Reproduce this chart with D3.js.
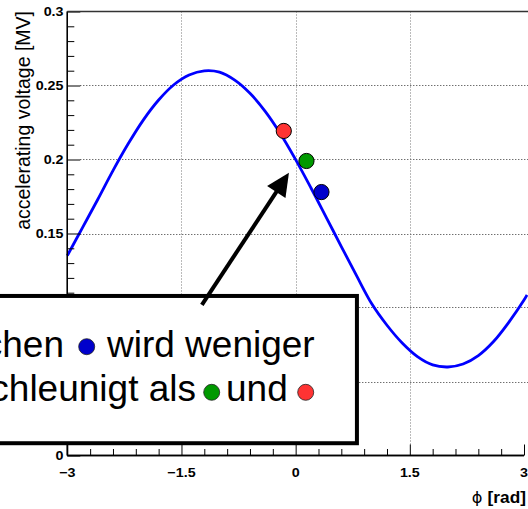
<!DOCTYPE html>
<html>
<head>
<meta charset="utf-8">
<script src="https://cdn.jsdelivr.net/npm/d3@7"></script>
<style>
html, body { margin: 0; padding: 0; background: #fff; overflow: hidden; }
svg { display: block; }
text { font-family: "Liberation Sans", Arial, Helvetica, sans-serif; }
</style>
</head>
<body>
<svg id="chart" width="528" height="509"></svg>
<script>
// ---- data ----
const phi = [-3.0,-2.8,-2.6,-2.4,-2.2,-2.0,-1.8,-1.6,-1.4,-1.2,-1.0,-0.8,-0.6,-0.4,-0.2,0.0,
             0.2,0.4,0.6,0.8,1.0,1.2,1.4,1.6,1.8,2.0,2.2,2.4,2.6,2.8,3.0,3.04];
const voltage = [0.135,0.154,0.173,0.1925,0.2106,0.2268,0.2402,0.2505,0.2571,0.2599,0.2590,0.2536,0.2447,0.2325,0.2174,0.1999,
                 0.1809,0.1611,0.1412,0.1215,0.1025,0.0880,0.0760,0.0668,0.0612,0.0598,0.0618,0.0675,0.0770,0.0900,0.1050,0.1085];

const pointPhi = [-0.156, 0.142, 0.339];
const pointV = [0.2193, 0.199, 0.178];
const pointColor = ["#ff3333", "#009900", "#0000cc"];

const xMajor = [-3, -1.5, 0, 1.5, 3];
const xMajorLabels = ["\u22123", "\u22121.5", "0", "1.5", "3"];
const yMajor = [0, 0.05, 0.1, 0.15, 0.2, 0.25, 0.3];
const yMajorLabels = ["0", "0.05", "0.1", "0.15", "0.2", "0.25", "0.3"];

const xTitleSym = "\u03D5";
const xTitle = "[rad]";
const yTitle = "accelerating voltage [MV]";

// annotation (in data coordinates)
const arrowTail = [-1.232, 0.1018];
const arrowTip = [-0.088, 0.191];
const boxX = [-4.0, 0.805];
const boxY = [0.0083, 0.1078];
const line1 = ["Teilchen", "wird weniger"];
const line2 = ["beschleunigt als", "und"];

// ---- layout ----
const svg = d3.select("#chart");
const x = d3.scaleLinear().domain([-3, 3]).range([67.3, 524.0]);
const y = d3.scaleLinear().domain([0, 0.3]).range([455.5, 11.5]);

const xMinor = d3.range(-3, 3.0001, 0.3).map(v => +v.toFixed(2)).filter(v => !xMajor.some(m => Math.abs(m - v) < 1e-6));
const yMinor = d3.range(0, 0.3001, 0.01).map(v => +v.toFixed(3)).filter(v => !yMajor.some(m => Math.abs(m - v) < 1e-6));

// grid
const grid = svg.append("g").attr("stroke", "#333").attr("stroke-width", 1).attr("stroke-dasharray", "1,2");
grid.selectAll("line.h").data(yMajor.filter(v => v > 0 && v < 0.3)).join("line")
  .attr("x1", x(-3) + 13).attr("x2", 528).attr("y1", d => Math.round(y(d)) + 0.5).attr("y2", d => Math.round(y(d)) + 0.5);
grid.selectAll("line.v").data(xMajor.filter(v => v > -3 && v < 3)).join("line")
  .attr("y1", y(0.3)).attr("y2", y(0) - 11).attr("x1", d => Math.round(x(d)) + 0.5).attr("x2", d => Math.round(x(d)) + 0.5)
  .attr("stroke", "#777");

// curve
const line = d3.line().x((d, i) => x(phi[i])).y(d => y(d)).curve(d3.curveCatmullRom);
svg.append("path").datum(voltage).attr("d", line)
  .attr("fill", "none").attr("stroke", "#0000ff").attr("stroke-width", 2.8);

// axes (ticks pointing inward)
const gy = svg.append("g").attr("transform", `translate(${x(-3)},0)`);
gy.call(d3.axisRight(y).tickValues(yMinor).tickSize(7).tickFormat(""));
gy.append("g").call(d3.axisRight(y).tickValues(yMajor).tickSize(13).tickFormat(""));
const gx = svg.append("g").attr("transform", `translate(0,${y(0)})`);
gx.call(d3.axisTop(x).tickValues(xMinor).tickSize(6.5).tickFormat(""));
gx.append("g").call(d3.axisTop(x).tickValues(xMajor).tickSize(11).tickFormat(""));
svg.selectAll(".domain").attr("stroke", "#000").attr("stroke-width", 1.3);
svg.selectAll(".tick line").attr("stroke", "#000").attr("stroke-width", 1);
gy.selectAll(".domain").attr("d", `M0,${y(0)}V${y(0.3)}`);
gx.selectAll(".domain").attr("d", `M${x(-3)},0H${x(3)}`);

// top frame
svg.append("line").attr("x1", x(-3)).attr("x2", 528).attr("y1", y(0.3)).attr("y2", y(0.3))
  .attr("stroke", "#333").attr("stroke-width", 1.6);

// tick labels (0.05 / 0.1 lie under the text box and are not visible)
const yShown = yMajor.map((d, i) => [d, yMajorLabels[i]]).filter(d => !(d[0] > boxY[0] && d[0] < boxY[1]));
svg.selectAll("text.yl").data(yShown).join("text").attr("class", "yl")
  .attr("transform", d => `translate(63.5,${y(d[0]) + 4.7}) scale(1.1,1)`)
  .attr("text-anchor", "end").attr("font-size", 13).attr("font-weight", "bold")
  .text(d => d[1]);
svg.selectAll("text.xl").data(xMajor).join("text").attr("class", "xl")
  .attr("transform", d => `translate(${x(d)},${y(0) + 21.5}) scale(1.1,1)`)
  .attr("text-anchor", "middle").attr("font-size", 13).attr("font-weight", "bold")
  .text((d, i) => xMajorLabels[i]);

// axis titles
const xt = svg.append("text").attr("transform", `translate(526,503) scale(1.08,1)`)
  .attr("text-anchor", "end").attr("font-size", 16);
xt.append("tspan").attr("font-family", "DejaVu Sans").attr("font-size", 15).text(xTitleSym + " ");
xt.append("tspan").attr("font-weight", "bold").text(xTitle);
svg.append("text").attr("transform", `translate(29.5,11) rotate(-90) scale(1,1.08)`)
  .attr("text-anchor", "end").attr("font-size", 19.5).text(yTitle);

// points
svg.selectAll("circle.pt").data(pointPhi).join("circle").attr("class", "pt")
  .attr("cx", d => x(d)).attr("cy", (d, i) => y(pointV[i])).attr("r", 7.6)
  .attr("fill", (d, i) => pointColor[i]).attr("stroke", "#000").attr("stroke-width", 1);

// text box
svg.append("rect").attr("x", x(boxX[0])).attr("y", y(boxY[1]))
  .attr("width", x(boxX[1]) - x(boxX[0])).attr("height", y(boxY[0]) - y(boxY[1]))
  .attr("fill", "#fff").attr("stroke", "#000").attr("stroke-width", 4);

const tg = svg.append("g").attr("font-size", 37).attr("fill", "#000");
tg.append("text").attr("x", 64).attr("y", 357).attr("text-anchor", "end").text(line1[0]);
tg.append("text").attr("x", 107).attr("y", 357).text(line1[1]);
tg.append("text").attr("x", 196).attr("y", 401).attr("text-anchor", "end").text(line2[0]);
tg.append("text").attr("x", 226).attr("y", 401).text(line2[1]);
const legendDots = [[86.7, 346.7, pointColor[2]], [211.7, 392.3, pointColor[1]], [305.7, 392.3, pointColor[0]]];
tg.selectAll("circle").data(legendDots).join("circle")
  .attr("cx", d => d[0]).attr("cy", d => d[1]).attr("r", 8)
  .attr("fill", d => d[2]).attr("stroke", "#222").attr("stroke-width", 0.8);

// arrow
const tx = x(arrowTail[0]), ty = y(arrowTail[1]), hx = x(arrowTip[0]), hy = y(arrowTip[1]);
const len = Math.hypot(hx - tx, hy - ty), ux = (hx - tx) / len, uy = (hy - ty) / len;
const headL = 23, headW = 11;
const bx = hx - ux * headL, by = hy - uy * headL;
svg.append("line").attr("x1", tx).attr("y1", ty).attr("x2", bx + ux * 2).attr("y2", by + uy * 2)
  .attr("stroke", "#000").attr("stroke-width", 4);
svg.append("path")
  .attr("d", `M${hx},${hy}L${bx - uy * headW},${by + ux * headW}L${bx + uy * headW},${by - ux * headW}Z`)
  .attr("fill", "#000");
</script>
</body>
</html>
